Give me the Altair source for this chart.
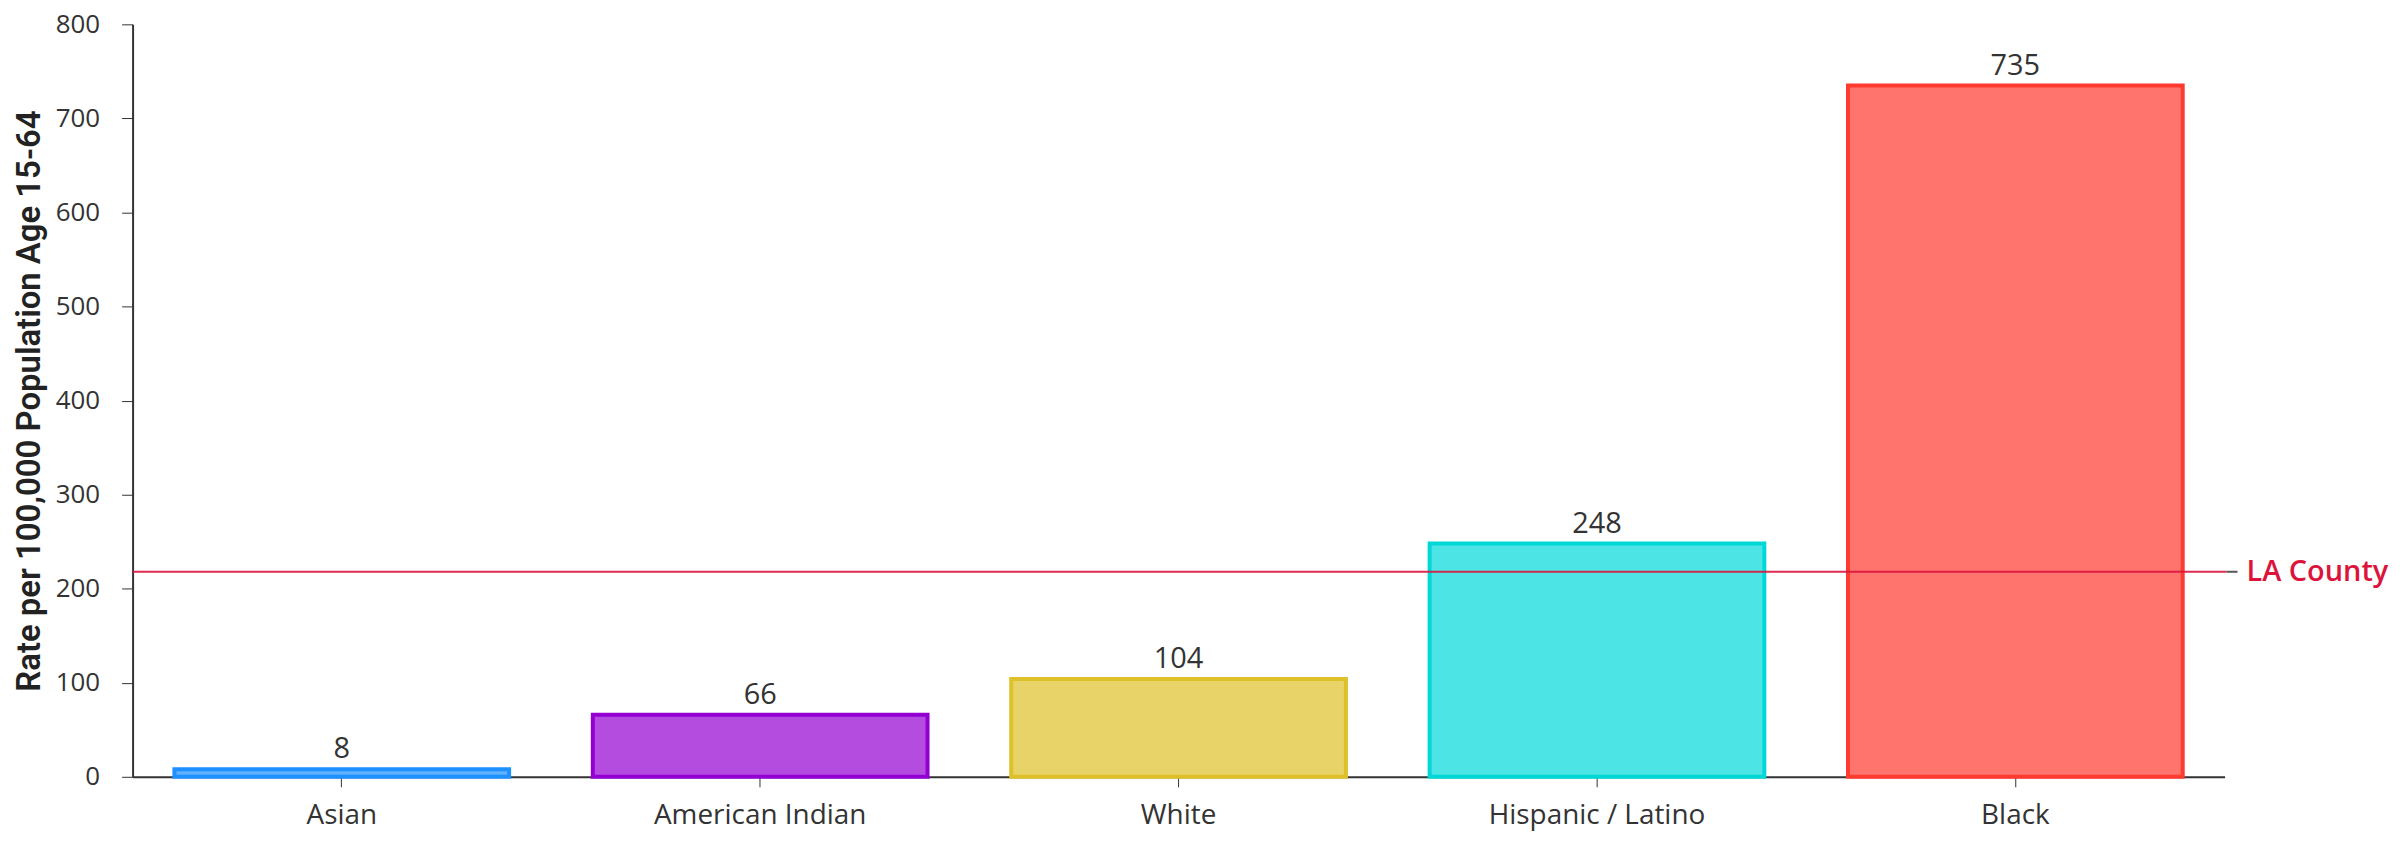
import altair as alt
import pandas as pd

categories = ["Asian", "American Indian", "White", "Hispanic / Latino", "Black"]
rates = [8, 66, 104, 248, 735]
stroke_colors = ["#1E90FF", "#9400D3", "#DEC028", "#00D8D8", "#FF3B30"]
la_county_rate = 218
la_label = "LA County"
y_ticks = [0, 100, 200, 300, 400, 500, 600, 700, 800]

W, H = 2099, 755
FONT = "Open Sans"

df = pd.DataFrame({"cat": categories, "rate": rates, "color": stroke_colors})
ref = pd.DataFrame({"rate": [la_county_rate], "label": [la_label]})

x_enc = alt.X("cat:N", sort=categories, title=None,
              scale=alt.Scale(paddingInner=0.2, paddingOuter=0.1),
              axis=alt.Axis(labelAngle=0, labelFontSize=28, labelFont=FONT,
                            labelColor="#333", tickSize=10, tickColor="#333",
                            domainColor="#333", domainWidth=2, labelPadding=15,
                            labelLimit=0, grid=False))
y_enc = alt.Y("rate:Q", scale=alt.Scale(domain=[0, 800]),
              title="Rate per 100,000 Population Age 15-64",
              axis=alt.Axis(values=y_ticks, labelFontSize=26, labelFont=FONT,
                            labelColor="#333", tickSize=11, tickColor="#333",
                            domainColor="#333", domainWidth=2, labelPadding=22,
                            grid=False, titleFont="Roboto", titleFontSize=33,
                            titleFontWeight=600, titleColor="#222",
                            titlePadding=9))

bars = alt.Chart(df).mark_bar(strokeWidth=4, fillOpacity=0.7).encode(
    x=x_enc, y=y_enc,
    fill=alt.Color("color:N", scale=None),
    stroke=alt.Color("color:N", scale=None),
)

labels = alt.Chart(df).mark_text(baseline="bottom", dy=-5, fontSize=29,
                                 font=FONT, color="#333").encode(
    x=alt.X("cat:N", sort=categories), y="rate:Q", text="rate:Q")

rule = alt.Chart(ref).mark_rule(color="#DC143C", strokeWidth=2, opacity=0.9).encode(
    y="rate:Q", x=alt.value(0), x2=alt.value(W + 2))
rule_tick = alt.Chart(ref).mark_rule(color="#555", strokeWidth=2).encode(
    y="rate:Q", x=alt.value(W + 2), x2=alt.value(W + 13))
ref_text = alt.Chart(ref).mark_text(align="left", baseline="middle", fontSize=29,
                                    font=FONT, fontWeight=600, color="#DC143C").encode(
    y="rate:Q", x=alt.value(W + 22), text="label:N")

chart = alt.layer(bars, labels, rule, rule_tick, ref_text).properties(
    width=W, height=H,
    autosize=alt.AutoSizeParams(type="none"),
    padding={"left": 125, "top": 15, "right": 168, "bottom": 58},
).configure_view(stroke=None)

chart.save("out.html", embed_options={"renderer": "svg", "actions": False})
